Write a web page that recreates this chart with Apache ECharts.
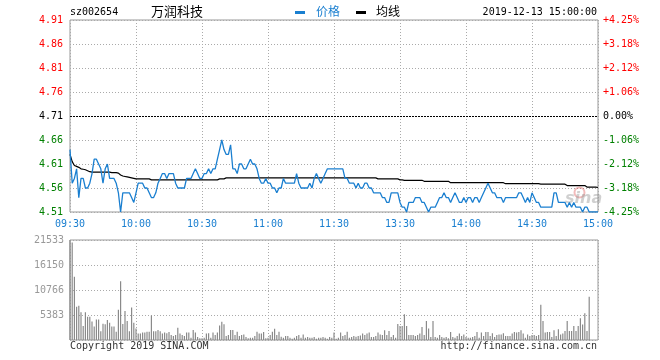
<!DOCTYPE html>
<html><head><meta charset="utf-8">
<script src="https://cdn.jsdelivr.net/npm/echarts@6/dist/echarts.min.js"></script>
<style>html,body{margin:0;padding:0;background:#fff}#c{width:660px;height:360px}</style>
</head><body><div id="c"></div>
<script>
const stockCode = 'sz002654';
const stockName = '万润科技';
const stamp = '2019-12-13 15:00:00';
const prevClose = 4.71;
const priceTicks = [4.51, 4.56, 4.61, 4.66, 4.71, 4.76, 4.81, 4.86, 4.91];
const pctTicks = ['-4.25%', '-3.18%', '-2.12%', '-1.06%', '0.00%', '+1.06%', '+2.12%', '+3.18%', '+4.25%'];
const volTickLabels = ['', '5383', '10766', '16150', '21533'];
const volMax = 21533;
const timeTicks = ['09:30', '10:00', '10:30', '11:00', '11:30', '13:30', '14:00', '14:30', '15:00'];

const price = [
4.64,4.57,4.58,4.60,4.54,4.58,4.58,4.56,4.56,4.57,
4.59,4.62,4.62,4.61,4.60,4.57,4.60,4.61,4.58,4.58,
4.58,4.57,4.55,4.51,4.55,4.55,4.55,4.55,4.54,4.53,
4.55,4.57,4.57,4.57,4.56,4.56,4.55,4.54,4.54,4.55,
4.57,4.58,4.59,4.59,4.58,4.59,4.59,4.59,4.57,4.56,
4.56,4.56,4.56,4.58,4.58,4.58,4.59,4.60,4.59,4.58,
4.58,4.59,4.59,4.60,4.59,4.60,4.60,4.62,4.64,4.66,
4.64,4.63,4.63,4.65,4.60,4.60,4.59,4.61,4.61,4.60,
4.60,4.61,4.62,4.61,4.61,4.60,4.58,4.57,4.57,4.58,
4.57,4.57,4.56,4.56,4.55,4.56,4.56,4.58,4.57,4.57,
4.57,4.57,4.57,4.59,4.57,4.56,4.56,4.56,4.56,4.57,
4.56,4.58,4.59,4.58,4.57,4.58,4.59,4.60,4.60,4.60,
4.60,4.60,4.60,4.60,4.60,4.58,4.58,4.57,4.57,4.57,
4.56,4.57,4.56,4.56,4.57,4.57,4.56,4.56,4.55,4.55,
4.55,4.55,4.54,4.54,4.53,4.53,4.55,4.55,4.55,4.55,
4.53,4.52,4.52,4.51,4.53,4.53,4.53,4.54,4.54,4.54,
4.53,4.53,4.52,4.51,4.52,4.52,4.52,4.53,4.54,4.54,
4.55,4.54,4.54,4.53,4.54,4.55,4.54,4.53,4.53,4.54,
4.53,4.54,4.54,4.53,4.54,4.54,4.53,4.54,4.55,4.56,
4.57,4.56,4.55,4.55,4.54,4.54,4.54,4.53,4.54,4.54,
4.54,4.54,4.54,4.54,4.55,4.55,4.54,4.53,4.54,4.53,
4.55,4.54,4.53,4.53,4.52,4.52,4.52,4.52,4.52,4.52,
4.55,4.55,4.53,4.53,4.53,4.53,4.52,4.53,4.52,4.53,
4.52,4.52,4.52,4.51,4.52,4.52,4.51,4.51,4.51,4.51,
4.51
];

const avg = [
4.630,4.615,4.607,4.605,4.603,4.600,4.599,4.598,4.596,4.594,
4.593,4.593,4.593,4.593,4.593,4.593,4.593,4.593,4.593,4.592,
4.592,4.592,4.591,4.587,4.585,4.584,4.583,4.582,4.581,4.580,
4.579,4.579,4.579,4.579,4.579,4.579,4.579,4.577,4.577,4.577,
4.577,4.577,4.577,4.577,4.577,4.577,4.577,4.577,4.577,4.577,
4.577,4.577,4.577,4.577,4.577,4.577,4.577,4.577,4.577,4.577,
4.577,4.577,4.577,4.577,4.577,4.577,4.577,4.577,4.579,4.579,
4.579,4.581,4.581,4.581,4.581,4.581,4.581,4.581,4.581,4.581,
4.581,4.581,4.581,4.581,4.581,4.581,4.581,4.581,4.581,4.581,
4.581,4.581,4.581,4.581,4.581,4.581,4.581,4.581,4.581,4.581,
4.581,4.581,4.581,4.581,4.581,4.581,4.581,4.581,4.581,4.581,
4.581,4.581,4.581,4.581,4.581,4.581,4.581,4.581,4.581,4.581,
4.581,4.581,4.581,4.581,4.581,4.581,4.581,4.581,4.581,4.581,
4.581,4.581,4.581,4.581,4.581,4.581,4.581,4.581,4.581,4.581,
4.579,4.579,4.579,4.579,4.579,4.579,4.579,4.579,4.579,4.579,
4.577,4.577,4.576,4.576,4.576,4.576,4.576,4.576,4.576,4.576,
4.576,4.574,4.574,4.574,4.574,4.574,4.574,4.574,4.574,4.574,
4.574,4.574,4.574,4.571,4.571,4.571,4.571,4.571,4.571,4.571,
4.571,4.571,4.571,4.571,4.571,4.571,4.571,4.571,4.571,4.571,
4.571,4.571,4.571,4.571,4.571,4.571,4.571,4.571,4.569,4.569,
4.569,4.569,4.569,4.569,4.569,4.569,4.569,4.569,4.569,4.569,
4.569,4.569,4.569,4.569,4.568,4.568,4.568,4.568,4.568,4.568,
4.568,4.568,4.568,4.568,4.568,4.568,4.565,4.565,4.565,4.565,
4.565,4.565,4.565,4.565,4.565,4.562,4.562,4.562,4.562,4.562,
4.561
];

const volume = [
21533,21000,13640,7180,7400,5960,3000,5960,5030,5030,
4000,2900,4400,4400,1900,3500,3400,4300,3700,2900,
2900,1800,6500,12640,3450,6250,4100,1900,7000,3700,
2500,1400,1400,1600,1600,1800,1800,5300,1900,1900,
2150,1900,1400,1600,1450,1700,1050,860,1050,2650,
1400,1050,860,1600,1600,500,2150,1600,650,350,
350,500,1400,1450,500,1600,1050,1600,3100,3950,
3400,860,1050,2150,2150,1050,1800,860,1050,1200,
650,350,500,500,860,1800,1400,1400,1700,350,
500,1050,1800,2400,1050,1800,700,500,860,860,
500,280,500,860,1050,500,1200,500,650,500,
500,650,280,500,500,650,500,280,650,500,
1600,280,500,1600,860,1050,1800,500,650,860,
700,860,950,1400,1050,1400,1600,650,650,860,
1600,1200,1050,2100,1050,1950,650,1050,500,3450,
3000,3000,5530,3000,1050,1050,1050,860,1050,1400,
2800,1050,4100,2500,650,4100,650,500,1050,650,
500,650,350,1700,650,500,860,1400,860,1200,
650,500,500,650,860,1700,500,1600,860,1700,
1700,860,1450,650,1050,1200,1200,1450,860,860,
860,1400,1700,1600,1700,2100,1400,500,1200,860,
1050,1050,860,1050,7600,4100,1600,1700,1700,650,
2100,860,2300,1200,1400,1950,4100,1950,1950,3000,
1950,3000,4700,3350,5750,1950,9300,0,0,0,
0
];

// minute categories: 09:30-11:30, then 13:01-15:00
const times = [];
function hm(h, m) { return String(h).padStart(2, '0') + ':' + String(m).padStart(2, '0'); }
for (let k = 0; k <= 120; k++) { const t = 9 * 60 + 30 + k; times.push(hm(Math.floor(t / 60), t % 60)); }
for (let k = 1; k <= 120; k++) { const t = 13 * 60 + k; times.push(hm(Math.floor(t / 60), t % 60)); }

const MONO = '"DejaVu Sans Mono", "Liberation Mono", monospace';
const CJK = '"Noto Sans CJK SC", sans-serif';
const BLUE = '#1a7fd0';
const GRID_C = '#aaaaaa';
const dotted = [1, 2];

function tickIndex(v) { return priceTicks.findIndex(t => Math.abs(t - v) < 1e-6); }
function richFor(size) {
  return {
    r: { color: '#ff0000', fontFamily: MONO, fontSize: size },
    k: { color: '#000000', fontFamily: MONO, fontSize: size },
    g: { color: '#008000', fontFamily: MONO, fontSize: size }
  };
}
function tagFor(k) { return k > 4 ? 'r' : (k === 4 ? 'k' : 'g'); }

const chart = echarts.init(document.getElementById('c'), null, { renderer: 'canvas' });
chart.setOption({
  animation: false,
  backgroundColor: '#ffffff',
  grid: [
    { left: 70, top: 20, width: 528, height: 192, show: true, borderColor: '#999999', borderWidth: 1, backgroundColor: 'transparent' },
    { left: 70, top: 240, width: 528, height: 100, show: true, borderColor: '#999999', borderWidth: 1, backgroundColor: 'transparent' }
  ],
  xAxis: [
    {
      type: 'category', gridIndex: 0, data: times, boundaryGap: false,
      axisLine: { show: false }, axisTick: { show: false },
      axisLabel: {
        interval: 29, margin: 7, color: BLUE, fontFamily: MONO, fontSize: 10,
        showMinLabel: true, showMaxLabel: true,
        formatter: v => (timeTicks.indexOf(v) >= 0 ? v : '')
      },
      splitLine: { show: true, interval: 29, lineStyle: { color: GRID_C, type: dotted, width: 1 } }
    },
    {
      type: 'category', gridIndex: 1, data: times, boundaryGap: false,
      axisLine: { show: false }, axisTick: { show: false }, axisLabel: { show: false },
      splitLine: { show: true, interval: 29, lineStyle: { color: GRID_C, type: dotted, width: 1 } }
    }
  ],
  yAxis: [
    {
      type: 'value', gridIndex: 0, position: 'left',
      min: priceTicks[0], max: priceTicks[priceTicks.length - 1], interval: 0.01,
      axisLine: { show: false }, axisTick: { show: false },
      axisLabel: {
        margin: 7, fontFamily: MONO, fontSize: 10,
        formatter: v => { const k = tickIndex(v); return k < 0 ? '' : '{' + tagFor(k) + '|' + priceTicks[k].toFixed(2) + '}'; },
        rich: richFor(10)
      },
      splitLine: {
        show: true,
        lineStyle: { color: [GRID_C, 'rgba(0,0,0,0)', 'rgba(0,0,0,0)', 'rgba(0,0,0,0)', 'rgba(0,0,0,0)'], type: dotted, width: 1 }
      }
    },
    {
      type: 'value', gridIndex: 0, position: 'right',
      min: priceTicks[0], max: priceTicks[priceTicks.length - 1], interval: 0.01,
      axisLine: { show: false }, axisTick: { show: false },
      axisLabel: {
        margin: 5, fontFamily: MONO, fontSize: 10,
        formatter: v => { const k = tickIndex(v); return k < 0 ? '' : '{' + tagFor(k) + '|' + pctTicks[k] + '}'; },
        rich: richFor(10)
      },
      splitLine: { show: false }
    },
    {
      type: 'value', gridIndex: 1, position: 'left',
      min: 0, max: volMax, interval: volMax / 4,
      axisLine: { show: false }, axisTick: { show: false },
      axisLabel: {
        margin: 6, color: '#999999', fontFamily: MONO, fontSize: 10,
        formatter: v => volTickLabels[Math.round(v / (volMax / 4))] || ''
      },
      splitLine: { show: true, lineStyle: { color: GRID_C, type: dotted, width: 1 } }
    }
  ],
  series: [
    {
      name: '均线', type: 'line', xAxisIndex: 0, yAxisIndex: 0, data: avg,
      showSymbol: false, symbol: 'none', lineStyle: { color: '#000000', width: 1.2 }, z: 3
    },
    {
      name: '价格', type: 'line', xAxisIndex: 0, yAxisIndex: 0, data: price,
      showSymbol: false, symbol: 'none', lineStyle: { color: BLUE, width: 1.3 }, z: 4,
      markLine: {
        silent: true, symbol: 'none', label: { show: false },
        lineStyle: { color: '#000000', type: [2, 1], width: 1 },
        data: [{ yAxis: prevClose }]
      }
    },
    {
      name: '成交量', type: 'bar', xAxisIndex: 1, yAxisIndex: 2, data: volume,
      barWidth: 1.2, itemStyle: { color: '#8a8a8a' }
    }
  ],
  graphic: [
    { type: 'text', left: 70, top: 7, style: { text: stockCode, font: '10px ' + MONO, fill: '#000' } },
    { type: 'text', left: 151, top: 5, style: { text: stockName, font: '13px ' + CJK, fill: '#000' } },
    { type: 'rect', left: 295, top: 11, shape: { width: 10, height: 3 }, style: { fill: BLUE } },
    { type: 'text', left: 316, top: 5, style: { text: '价格', font: '12px ' + CJK, fill: BLUE } },
    { type: 'rect', left: 356, top: 11, shape: { width: 10, height: 3 }, style: { fill: '#000' } },
    { type: 'text', left: 376, top: 5, style: { text: '均线', font: '12px ' + CJK, fill: '#000' } },
    { type: 'text', right: 63, top: 7, style: { text: stamp, font: '10px ' + MONO, fill: '#000' } },
    { type: 'text', left: 70, top: 341, style: { text: 'Copyright 2019 SINA.COM', font: '10px ' + MONO, fill: '#333' } },
    { type: 'text', right: 63, top: 341, style: { text: 'http://finance.sina.com.cn', font: '10px ' + MONO, fill: '#333' } },
    { type: 'circle', left: 572, top: 185, shape: { r: 5 }, style: { fill: 'none', stroke: 'rgba(220,60,60,0.35)', lineWidth: 2 }, z: 1 },
    { type: 'text', left: 565, top: 191, style: { text: 'sina', font: 'italic bold 16px "DejaVu Sans", sans-serif', fill: 'rgba(150,150,150,0.45)' }, z: 1 }
  ]
});
</script>
</body></html>
